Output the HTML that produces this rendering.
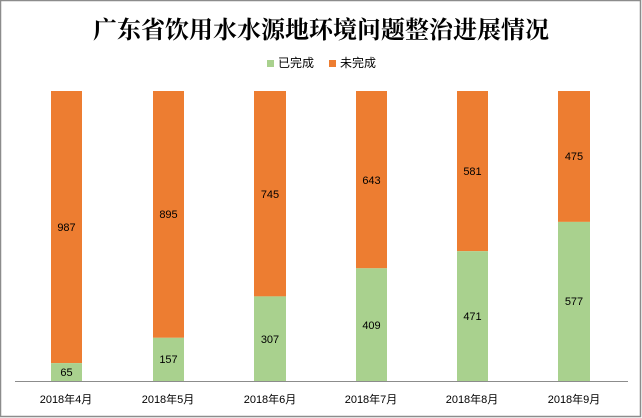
<!DOCTYPE html>
<html><head><meta charset="utf-8"><style>
body{margin:0;background:#fff}
svg{display:block}
</style></head><body>
<svg width="642" height="418" xmlns="http://www.w3.org/2000/svg">
<rect x="0.5" y="0.5" width="640" height="416" fill="#fff" stroke="#8c8c8c" stroke-width="1.5"/>
<text x="321" y="38" text-anchor="middle" font-family="'Liberation Serif','Noto Serif CJK SC',serif" font-weight="bold" font-size="24" fill="#000">广东省饮用水水源地环境问题整治进展情况</text>
<rect x="267" y="60" width="7" height="7" fill="#A9D18E"/>
<text x="278" y="67" font-family="'Liberation Sans','Noto Sans CJK SC',sans-serif" font-size="12" fill="#000">已完成</text>
<rect x="329" y="60" width="7" height="7" fill="#ED7D31"/>
<text x="340" y="67" font-family="'Liberation Sans','Noto Sans CJK SC',sans-serif" font-size="12" fill="#000">未完成</text>
<g font-family="'Liberation Sans','Noto Sans CJK SC',sans-serif" font-size="11" fill="#000" text-anchor="middle">
<!-- bars: top 91, bottom 381, height 290 -->
<rect x="51" y="91" width="31" height="272.1" fill="#ED7D31"/><rect x="51" y="363.1" width="31" height="17.9" fill="#A9D18E"/>
<text x="66.5" y="231">987</text><text x="66.5" y="376">65</text>
<rect x="153" y="91" width="31" height="246.8" fill="#ED7D31"/><rect x="153" y="337.8" width="31" height="43.2" fill="#A9D18E"/>
<text x="168.5" y="218">895</text><text x="168.5" y="363">157</text>
<rect x="254" y="91" width="32" height="205.4" fill="#ED7D31"/><rect x="254" y="296.4" width="32" height="84.6" fill="#A9D18E"/>
<text x="270" y="198">745</text><text x="270" y="343">307</text>
<rect x="356" y="91" width="31" height="177.3" fill="#ED7D31"/><rect x="356" y="268.3" width="31" height="112.7" fill="#A9D18E"/>
<text x="371.5" y="184">643</text><text x="371.5" y="329">409</text>
<rect x="457" y="91" width="31" height="160.2" fill="#ED7D31"/><rect x="457" y="251.2" width="31" height="129.8" fill="#A9D18E"/>
<text x="472.5" y="175">581</text><text x="472.5" y="320">471</text>
<rect x="558" y="91" width="32" height="130.9" fill="#ED7D31"/><rect x="558" y="221.9" width="32" height="159.1" fill="#A9D18E"/>
<text x="574" y="160">475</text><text x="574" y="305">577</text>
<line x1="15" y1="381.5" x2="628" y2="381.5" stroke="#8c8c8c" stroke-width="1"/>
<text x="66" y="403">2018年4月</text>
<text x="168" y="403">2018年5月</text>
<text x="270" y="403">2018年6月</text>
<text x="371" y="403">2018年7月</text>
<text x="472" y="403">2018年8月</text>
<text x="574" y="403">2018年9月</text>
</g>
</svg>
</body></html>
